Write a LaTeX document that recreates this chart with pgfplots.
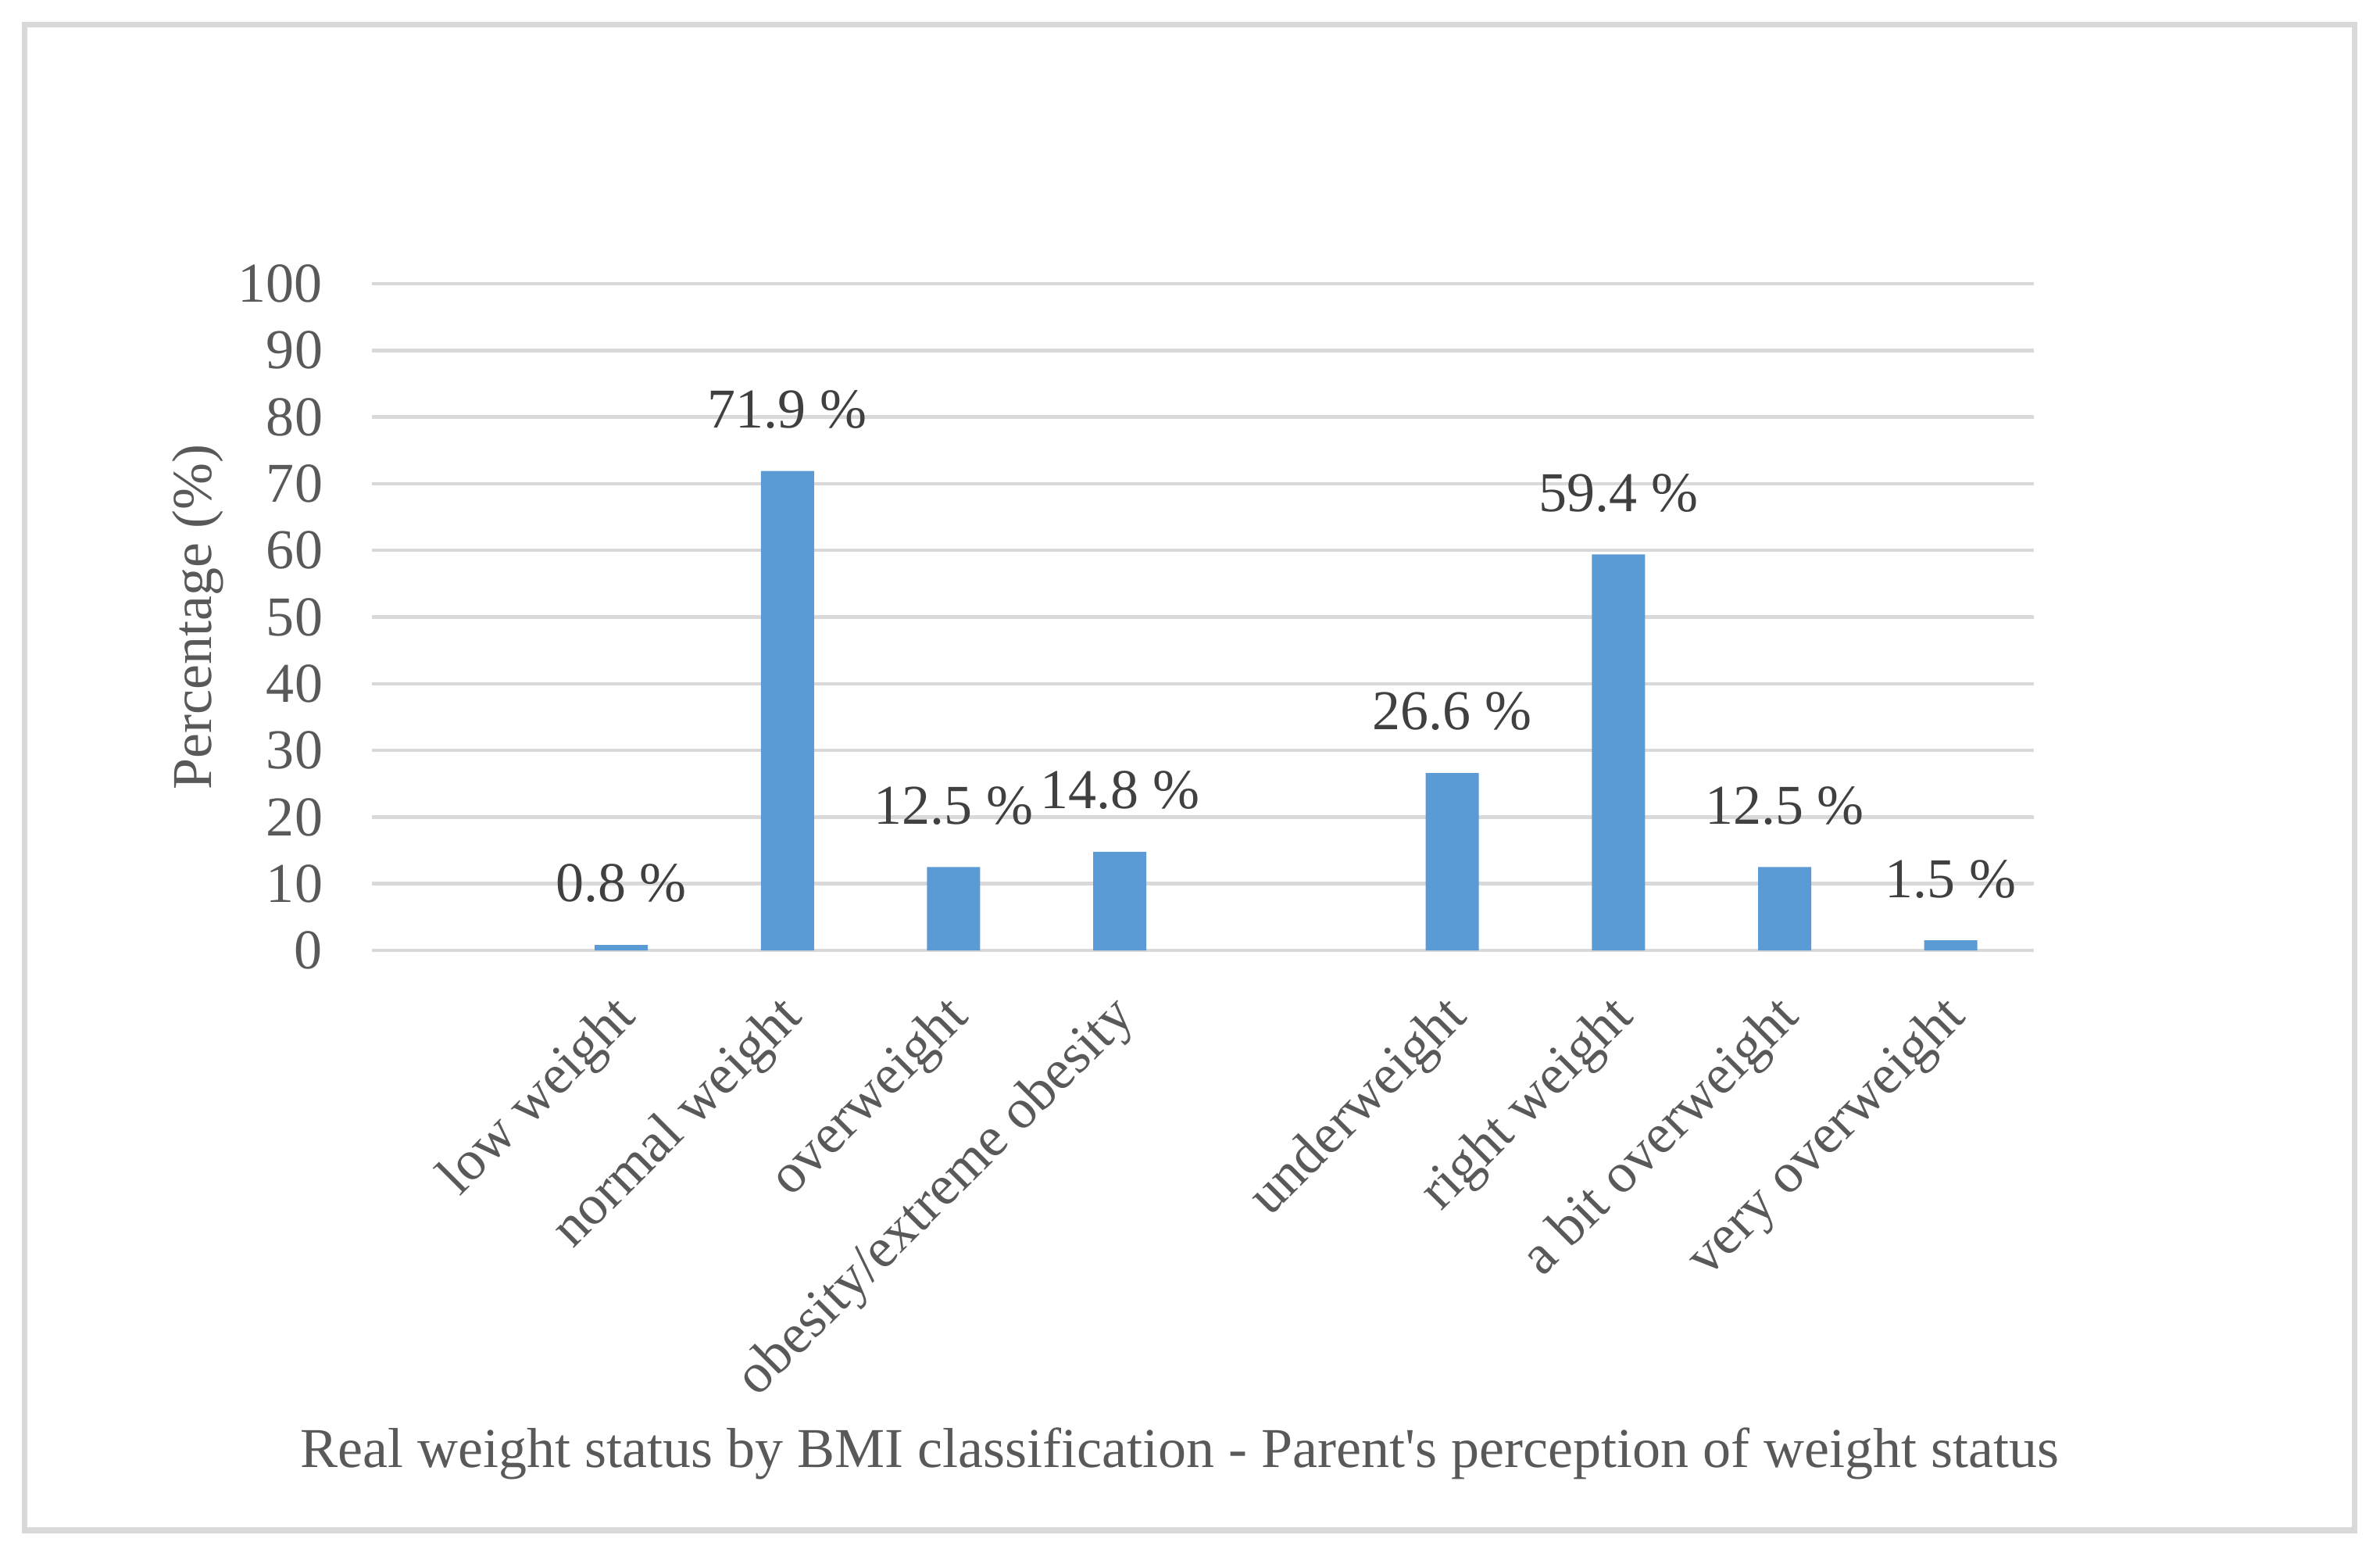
\documentclass[border=0pt]{standalone}
\usepackage{fontspec}
\setmainfont{Liberation Serif}
\usepackage{pgfplots}
\pgfplotsset{compat=1.18}
\definecolor{barblue}{HTML}{5B9BD5}
\definecolor{gridgray}{HTML}{D9D9D9}
\definecolor{txtgray}{HTML}{595959}
\definecolor{lblgray}{HTML}{404040}
\begin{document}
\begin{tikzpicture}[font=\fontsize{12}{14.4}\selectfont]
\useasboundingbox (0,0) rectangle (507.667pt,332.5pt);
\draw[gridgray, line width=1.17pt] (5.33pt,6.17pt) rectangle (502.17pt,327.17pt);
\begin{axis}[
  at={(79.333pt,129.833pt)}, anchor=south west,
  scale only axis, width=354.5pt, height=142.167pt,
  xmin=-0.5, xmax=9.5, ymin=0, ymax=100,
  ytick={0,10,...,100},
  xtick={1,2,3,4,6,7,8,9},
  xticklabels={low weight, normal weight, overweight, obesity/extreme obesity, underweight, right weight, a bit overweight, very overweight},
  axis line style={draw=none},
  major tick length=0pt,
  ymajorgrids, grid style={gridgray, line width=0.75pt},
  /pgf/number format/assume math mode=true,
  tick label style={font=\fontsize{12}{14.4}\selectfont, text=txtgray},
  yticklabel style={inner sep=0pt, xshift=-10.3pt},
  xticklabel style={inner sep=0pt, xshift=-2.4pt, yshift=-8.4pt, rotate=45, anchor=north east},
  ylabel={Percentage (\%)},
  ylabel style={at={(axis description cs:-0.1048,0.5)}, anchor=center, text=txtgray, font=\fontsize{12}{14.4}\selectfont},
  xlabel={Real weight status by BMI classification - Parent\textquotesingle s perception of weight status},
  xlabel style={at={(axis description cs:0.4861,-0.7749)}, anchor=base, text=txtgray, font=\fontsize{12}{14.4}\selectfont},
  ybar, bar width=11.333pt,
]
\addplot[fill=barblue, draw=none,
  nodes near coords, point meta=explicit symbolic,
  every node near coord/.append style={anchor=base, inner sep=0pt, yshift=9.2pt, text=lblgray, font=\fontsize{12}{14.4}\selectfont}]
coordinates {
  (1,0.8) [0.8 \%]
  (2,71.9) [71.9 \%]
  (3,12.5) [12.5 \%]
  (4,14.8) [14.8 \%]
  (6,26.6) [26.6 \%]
  (7,59.4) [59.4 \%]
  (8,12.5) [12.5 \%]
  (9,1.5) [1.5 \%]
};
\end{axis}
\end{tikzpicture}
\end{document}
